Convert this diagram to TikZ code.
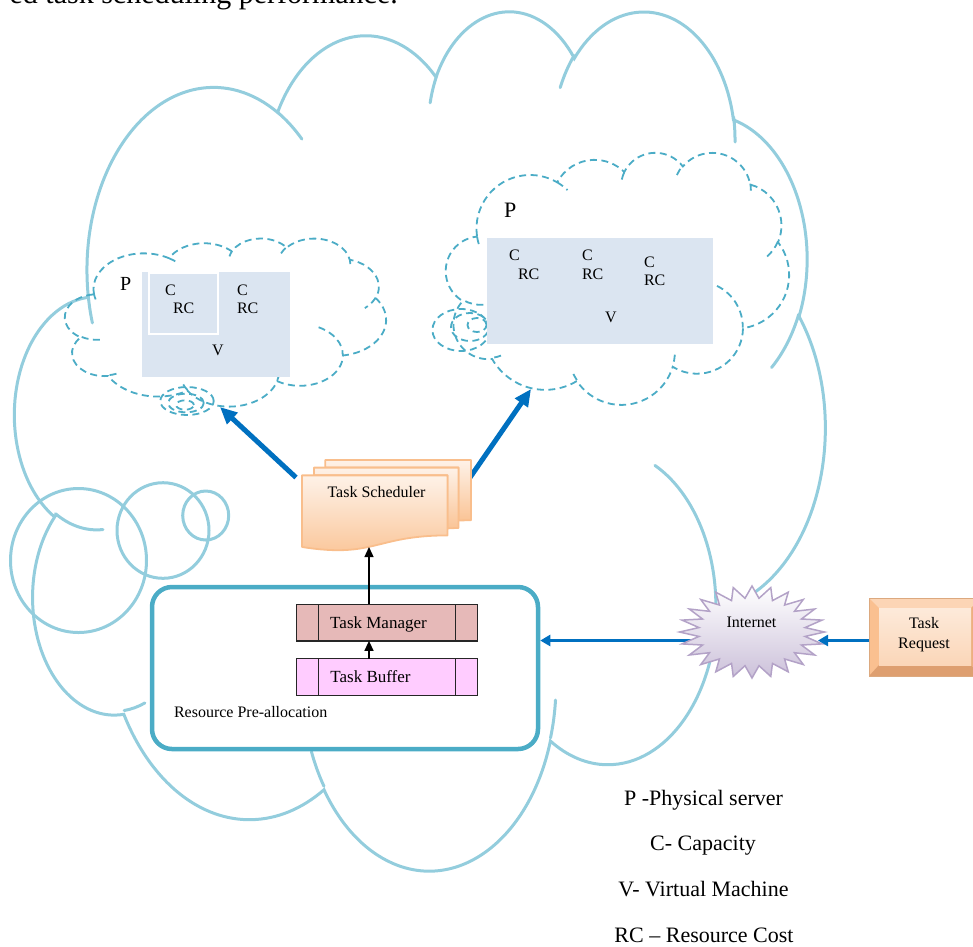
\documentclass[tikz,border=0pt]{standalone}
\usepackage{fontspec}
\setmainfont{Liberation Serif}
\usetikzlibrary{arrows.meta}

\definecolor{cloudline}{HTML}{93CDDD}
\definecolor{aqua}{HTML}{4BACC6}
\definecolor{vmfill}{HTML}{DBE5F1}
\definecolor{linkblue}{HTML}{0070C0}
\definecolor{mgrfill}{HTML}{E6B9B8}
\definecolor{buffill}{HTML}{FFCCFF}
\definecolor{peachtop}{HTML}{FEF2E8}
\definecolor{peachbot}{HTML}{FAC496}
\definecolor{peachedge}{HTML}{F9BE8C}
\definecolor{lilac}{HTML}{CCC1DA}
\definecolor{lilacedge}{HTML}{B3A2C7}
\definecolor{bevelmid}{HTML}{FAC090}
\definecolor{bevellight}{HTML}{FCD5B5}
\definecolor{beveldark}{HTML}{DE9F70}
\definecolor{bevelside}{HTML}{EDAF80}
\definecolor{facetop}{HTML}{FDEADA}
\definecolor{facebot}{HTML}{FBD6B8}

% elliptic arc given as radii, start angle and sweep measured on the ellipse itself
\newcommand\ooarc[4]{%
  \pgfmathsetmacro\oaS{atan2((#1)*sin(#3),(#2)*cos(#3))}%
  \pgfmathsetmacro\oaR{atan2((#1)*sin((#3)+(#4)),(#2)*cos((#3)+(#4)))}%
  \pgfmathsetmacro\oaE{\oaS+mod(mod(\oaR-\oaS,360)+360,360)}%
  \pgfpatharcaxes{\oaS}{\oaE}{\pgfpointxy{#1}{0}}{\pgfpointxy{0}{#2}}%
}
% cloud outline on a 43.2 x 43.2 grid, followed by the short inner puff strokes
\newcommand\cloudpath{%
  \pgfpathmoveto{\pgfpointxy{3.900}{14.370}}%
  \ooarc{6.753}{9.190}{-190.48748}{123.78053}%
  \ooarc{5.333}{7.267}{-144.10238}{89.94523}%
  \ooarc{4.365}{5.945}{-145.80792}{99.72302}%
  \ooarc{4.857}{6.595}{-130.98607}{117.24173}%
  \ooarc{5.333}{7.273}{-78.70888}{109.02692}%
  \ooarc{6.775}{9.220}{-46.26725}{130.26900}%
  \ooarc{5.785}{7.867}{0.62502}{114.03333}%
  \ooarc{6.752}{9.215}{22.45160}{115.17255}%
  \ooarc{7.720}{10.543}{66.24263}{75.71102}%
  \ooarc{4.360}{5.918}{-274.94208}{146.73557}%
  \ooarc{4.345}{5.945}{-246.82850}{152.51885}%
  \pgfpathclose
  \pgfpathmoveto{\pgfpointxy{4.693}{26.177}}\ooarc{4.345}{5.945}{86.74200}{26.42950}%
  \pgfpathmoveto{\pgfpointxy{6.928}{34.899}}\ooarc{4.360}{5.918}{73.61047}{11.44747}%
  \pgfpathmoveto{\pgfpointxy{16.478}{39.090}}\ooarc{6.752}{9.215}{137.62415}{14.08110}%
  \pgfpathmoveto{\pgfpointxy{28.827}{34.751}}\ooarc{6.752}{9.215}{6.45327}{15.99835}%
  \pgfpathmoveto{\pgfpointxy{34.129}{22.954}}\ooarc{5.785}{7.867}{-70.29235}{70.91737}%
  \pgfpathmoveto{\pgfpointxy{41.798}{15.354}}\ooarc{5.333}{7.273}{30.31803}{27.75150}%
  \pgfpathmoveto{\pgfpointxy{38.324}{5.426}}\ooarc{4.857}{6.595}{-13.74433}{14.85890}%
  \pgfpathmoveto{\pgfpointxy{29.078}{3.952}}\ooarc{4.857}{6.595}{-149.18145}{18.19537}%
  \pgfpathmoveto{\pgfpointxy{22.141}{4.720}}\ooarc{4.365}{5.945}{-163.49427}{17.68635}%
  \pgfpathmoveto{\pgfpointxy{14.000}{5.192}}\ooarc{6.753}{9.190}{-66.70695}{12.31935}%
  \pgfpathmoveto{\pgfpointxy{4.127}{15.789}}\ooarc{6.753}{9.190}{157.65435}{11.85817}%
}

\tikzset{
  bigcloud/.style={color=cloudline, line width=3pt, line cap=round},
  dashcloud/.style={color=aqua, line width=1.8pt, dash pattern=on 7pt off 4.5pt},
  vmbox/.style={fill=vmfill, draw=none, inner sep=0pt, outer sep=0pt},
  vmslot/.style={draw=white, line width=1.3pt, inner sep=0pt, outer sep=0pt},
  txt/.style={inner sep=0pt, outer sep=0pt, font=\fontsize{16}{19}\selectfont},
  bigtxt/.style={inner sep=0pt, outer sep=0pt, font=\fontsize{22}{26}\selectfont},
  queue/.style={draw=black!85, line width=1.4pt, inner sep=0pt, outer sep=0pt,
                minimum width=180.6pt, minimum height=36.5pt},
  thickarrow/.style={draw=linkblue, line width=5pt, -{Triangle[length=17pt,width=15pt]}},
  thinarrow/.style={draw=linkblue, line width=2.8pt, -{Triangle[length=10pt,width=11pt]}},
  blackarrow/.style={draw=black, line width=1.3pt, -{Triangle[length=10pt,width=9pt]}},
  docpart/.style={top color=peachtop, bottom color=peachbot, draw=peachedge,
                  line width=1.8pt, line join=round}
}

\begin{document}
\begin{tikzpicture}[x=1pt, y=-1pt]
\useasboundingbox (0,0) rectangle (973,946);

% running text of the page above the figure
\node[anchor=base east, inner sep=0pt, font=\fontsize{30}{36}\selectfont] (lead) at (398,3)
  {ed task scheduling performance.};

% outer cloud (callout) with its three bubbles
\begin{scope}[shift={(15,9)}, x=18.75pt, y=-19.884pt, bigcloud]
  \cloudpath\pgfusepath{stroke}
\end{scope}
\draw[bigcloud] (78.5,560.5) ellipse [x radius=68pt, y radius=72pt];
\draw[bigcloud] (163,530.5) ellipse [x radius=46pt, y radius=47.8pt];
\draw[bigcloud] (205.7,515.5) ellipse [x radius=23pt, y radius=24.5pt];

% left physical server cloud
\begin{scope}[shift={(65,238)}, x=7.4306pt, y=-3.8889pt, dashcloud]
  \cloudpath\pgfusepath{stroke}
\end{scope}
\draw[dashcloud] (185,405) ellipse [x radius=8.9pt, y radius=4.7pt];
\draw[dashcloud] (186,403) ellipse [x radius=17.8pt, y radius=9.3pt];
\draw[dashcloud] (187,401) ellipse [x radius=26.7pt, y radius=14pt];

% right physical server cloud
\begin{scope}[shift={(446,152)}, x=7.9398pt, y=-5.8333pt, dashcloud]
  \cloudpath\pgfusepath{stroke}
\end{scope}
\draw[dashcloud] (477,325) ellipse [x radius=9.5pt, y radius=7pt];
\draw[dashcloud] (470,327) ellipse [x radius=19pt, y radius=14pt];
\draw[dashcloud] (461,330) ellipse [x radius=28.6pt, y radius=21pt];

% server contents
\node[vmbox, minimum width=148pt, minimum height=105pt] (vmL) at (216,324.5) {};
\node[vmslot, minimum width=69pt, minimum height=61pt] (slotL) at (183.5,303.5) {};
\node[vmbox, minimum width=226pt, minimum height=105.5pt] (vmR) at (600,290.75) {};

\node[txt, font=\fontsize{20}{24}\selectfont, anchor=base west] (pL) at (120,290) {P};
\node[txt, anchor=base west] (cL1) at (165,295) {C};
\node[txt, anchor=base west] (rcL1) at (173,313) {RC};
\node[txt, anchor=base west] (cL2) at (237,295) {C};
\node[txt, anchor=base west] (rcL2) at (237,313) {RC};
\node[txt, anchor=base west] (vL) at (212,355) {V};

\node[txt, font=\fontsize{22}{26}\selectfont, anchor=base west] (pR) at (504,217) {P};
\node[txt, anchor=base west] (cR1) at (509,260) {C};
\node[txt, anchor=base west] (rcR1) at (518,279) {RC};
\node[txt, anchor=base west] (cR2) at (582,260) {C};
\node[txt, anchor=base west] (rcR2) at (582,279) {RC};
\node[txt, anchor=base west] (cR3) at (644,267) {C};
\node[txt, anchor=base west] (rcR3) at (644,285) {RC};
\node[txt, anchor=base west] (vR) at (605,322) {V};

% scheduler to the two servers
\coordinate (toL0) at (296,477.5);
\coordinate (toL1) at (220,407);
\coordinate (toR0) at (470,477.5);
\coordinate (toR1) at (531,389);
\draw[thickarrow] (toL0) -- (toL1);
\draw[thickarrow] (toR0) -- (toR1);

% task scheduler (stack of documents)
\node[inner sep=0pt, minimum width=169pt, minimum height=92pt] (sched) at (386.5,506) {};
\begin{scope}[shift={(302,460)}, x=7.824pt, y=-4.185pt]
  \path[docpart] (2.972,1.815) -- (2.972,0) -- (21.6,0) -- (21.6,14.392)
    .. controls (20.8,14.392) and (20.0,14.467) .. (20.0,14.467) -- (20.0,1.815) -- cycle;
  \path[docpart] (1.532,3.675) -- (1.532,1.815) -- (20.0,1.815) -- (20.0,16.252)
    .. controls (19.298,16.252) and (18.595,16.352) .. (18.595,16.352) -- (18.595,3.675) -- cycle;
  \path[docpart] (0,20.782) .. controls (9.298,23.542) and (9.298,18.022) .. (18.595,18.022)
    -- (18.595,3.675) -- (0,3.675) -- cycle;
\end{scope}
\node[txt, anchor=base] (schedlbl) at (376.5,497) {Task Scheduler};
\coordinate (schedTip) at (369,547);

% resource pre-allocation block
\node[draw=aqua, line width=4.5pt, fill=white, rounded corners=20pt, inner sep=0pt,
      minimum width=386pt, minimum height=162pt] (res) at (345,668) {};
\node[queue, fill=mgrfill] (mgr) at (387,622.6) {};
\node[queue, fill=buffill] (buf) at (387,677) {};
\foreach \q in {mgr,buf}{
  \draw[draw=black!85, line width=1.4pt] ([xshift=21.6pt]\q.north west) -- ([xshift=21.6pt]\q.south west);
  \draw[draw=black!85, line width=1.4pt] ([xshift=-21.6pt]\q.north east) -- ([xshift=-21.6pt]\q.south east);
}
\node[txt, font=\fontsize{17}{20}\selectfont, anchor=base] (mgrlbl) at (378.5,628) {Task Manager};
\node[txt, font=\fontsize{17}{20}\selectfont, anchor=base] (buflbl) at (370.5,682) {Task Buffer};
\node[txt, anchor=base west] (reslbl) at (174,717) {Resource Pre-allocation};

\draw[blackarrow] (mgr.north -| schedTip) -- (schedTip);
\draw[blackarrow] (buf.north -| schedTip) -- (mgr.south -| schedTip);

% internet
\coordinate (inetC) at (752,640.5);
\coordinate (inetR) at (818,640.5);
\draw[thinarrow] (inetC) -- (inetC -| res.east);
\path[top color=white, bottom color=lilac, draw=lilacedge, line width=1.5pt, line join=miter]
  plot[samples at={0,1,...,47}]
  ({752+ifthenelse(mod(\x,2)==0,72.5,53.5)*cos(\x*7.5)},
   {632+ifthenelse(mod(\x,2)==0,46,34)*sin(\x*7.5)}) -- cycle;
\node[txt, anchor=base] (inetlbl) at (751.5,627) {Internet};

% task request (bevelled button)
\node[inner sep=0pt, outer sep=0pt, minimum width=112pt, minimum height=78pt] (treq) at (925,637) {};
\fill[bevelmid] (869,598) rectangle (981,676);
\fill[bevellight] (869,598) -- (981,598) -- (971,608) -- (879,608) -- cycle;
\fill[beveldark] (869,676) -- (879,665) -- (971,665) -- (981,676) -- cycle;
\fill[bevelside] (981,598) -- (971,608) -- (971,665) -- (981,676) -- cycle;
\shade[top color=facetop, bottom color=facebot] (879,608) rectangle (971,665);
\draw[draw=bevelmid!80!black!60!bevelmid, line width=1pt] (869,598) rectangle (981,676);
\node[txt, anchor=base] (treqlbl1) at (924,628) {Task};
\node[txt, anchor=base] (treqlbl2) at (924,648) {Request};
\draw[thinarrow] (treq.west |- inetR) -- (inetR);

% legend
\node[bigtxt, anchor=base] (lg1) at (703.5,805) {P -Physical server};
\node[bigtxt, anchor=base] (lg2) at (703,850) {C- Capacity};
\node[bigtxt, anchor=base] (lg3) at (703.5,896) {V- Virtual Machine};
\node[bigtxt, anchor=base] (lg4) at (704,942) {RC – Resource Cost};
\end{tikzpicture}
\end{document}
